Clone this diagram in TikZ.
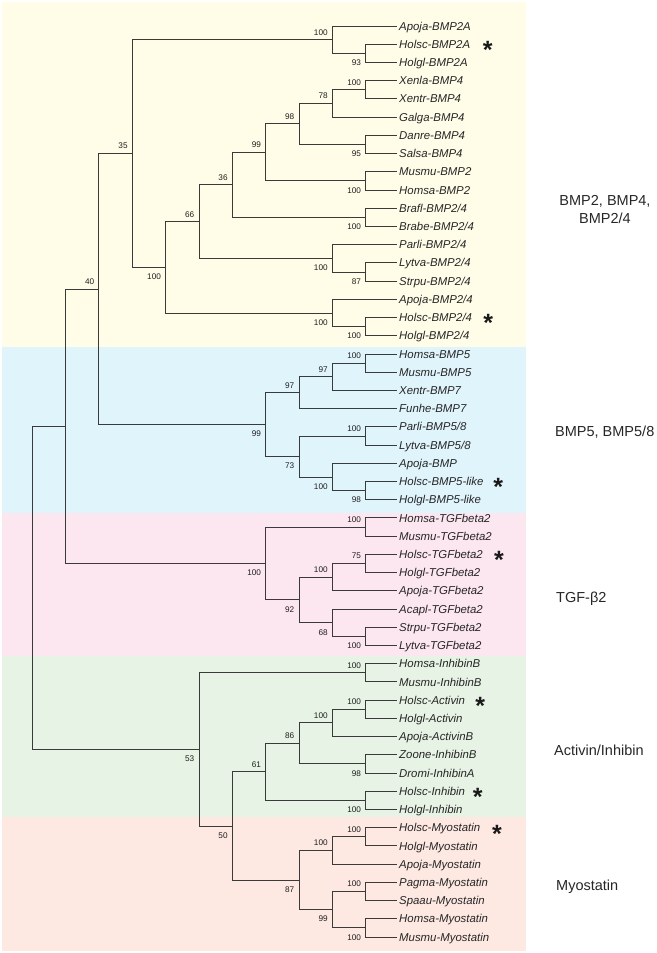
\documentclass[tikz,border=0pt]{standalone}
\usepackage{fontspec}
\setmainfont{Liberation Sans}
\definecolor{bandY}{HTML}{FFFDE8}
\definecolor{bandB}{HTML}{E0F4FC}
\definecolor{bandP}{HTML}{FCE6F0}
\definecolor{bandG}{HTML}{E7F3E4}
\definecolor{bandS}{HTML}{FDE8E2}
\definecolor{brc}{HTML}{3A3A3A}
\newcommand{\leaffont}{\fontsize{11.4}{12}\selectfont\itshape}
\newcommand{\bsfont}{\fontsize{8.2}{9}\selectfont}
\newcommand{\grpfont}{\fontsize{14.5}{18.3}\selectfont}
\begin{document}
\begin{tikzpicture}[x=1pt,y=-1pt,
  treeline/.style={draw=brc,line width=0.9pt},
  leaf/.style={anchor=west,inner xsep=2pt,inner ysep=0pt,text height=8.2pt,text depth=0pt,font=\leaffont,text=black!85},
  bsab/.style={anchor=base east,inner sep=0pt,font=\bsfont,text=black!88,xshift=-4.5pt,yshift=4.5pt},
  bsbe/.style={anchor=base east,inner sep=0pt,font=\bsfont,text=black!88,xshift=-4.5pt,yshift=-12.3pt},
  grp/.style={inner sep=0pt,font=\grpfont,text=black!85},
  grpw/.style={grp,anchor=west,text height=10.4pt,text depth=0pt},
  hstar/.style={anchor=base,inner sep=0pt,font=\fontsize{25}{25}\bfseries,text=black!90}]
\useasboundingbox (0,0) rectangle (656,953);
% bands
\fill[bandY] (2,2) rectangle (526,346.5);
\fill[bandB] (2,346.5) rectangle (526,513.3);
\fill[bandP] (2,513.3) rectangle (526,655.7);
\fill[bandG] (2,655.7) rectangle (526,817.3);
\fill[bandS] (2,817.3) rectangle (526,950.7);
% leaves
\node[leaf] (t1) at (397,26.00) {Apoja-BMP2A};
\node[leaf] (t2) at (397,44.22) {Holsc-BMP2A};
\node[leaf] (t3) at (397,62.44) {Holgl-BMP2A};
\node[leaf] (t4) at (397,80.66) {Xenla-BMP4};
\node[leaf] (t5) at (397,98.88) {Xentr-BMP4};
\node[leaf] (t6) at (397,117.10) {Galga-BMP4};
\node[leaf] (t7) at (397,135.32) {Danre-BMP4};
\node[leaf] (t8) at (397,153.54) {Salsa-BMP4};
\node[leaf] (t9) at (397,171.76) {Musmu-BMP2};
\node[leaf] (t10) at (397,189.98) {Homsa-BMP2};
\node[leaf] (t11) at (397,208.20) {Brafl-BMP2/4};
\node[leaf] (t12) at (397,226.42) {Brabe-BMP2/4};
\node[leaf] (t13) at (397,244.64) {Parli-BMP2/4};
\node[leaf] (t14) at (397,262.86) {Lytva-BMP2/4};
\node[leaf] (t15) at (397,281.08) {Strpu-BMP2/4};
\node[leaf] (t16) at (397,299.30) {Apoja-BMP2/4};
\node[leaf] (t17) at (397,317.52) {Holsc-BMP2/4};
\node[leaf] (t18) at (397,335.74) {Holgl-BMP2/4};
\node[leaf] (t19) at (397,353.96) {Homsa-BMP5};
\node[leaf] (t20) at (397,372.18) {Musmu-BMP5};
\node[leaf] (t21) at (397,390.40) {Xentr-BMP7};
\node[leaf] (t22) at (397,408.62) {Funhe-BMP7};
\node[leaf] (t23) at (397,426.84) {Parli-BMP5/8};
\node[leaf] (t24) at (397,445.06) {Lytva-BMP5/8};
\node[leaf] (t25) at (397,463.28) {Apoja-BMP};
\node[leaf] (t26) at (397,481.50) {Holsc-BMP5-like};
\node[leaf] (t27) at (397,499.72) {Holgl-BMP5-like};
\node[leaf] (t28) at (397,517.94) {Homsa-TGFbeta2};
\node[leaf] (t29) at (397,536.16) {Musmu-TGFbeta2};
\node[leaf] (t30) at (397,554.38) {Holsc-TGFbeta2};
\node[leaf] (t31) at (397,572.60) {Holgl-TGFbeta2};
\node[leaf] (t32) at (397,590.82) {Apoja-TGFbeta2};
\node[leaf] (t33) at (397,609.04) {Acapl-TGFbeta2};
\node[leaf] (t34) at (397,627.26) {Strpu-TGFbeta2};
\node[leaf] (t35) at (397,645.48) {Lytva-TGFbeta2};
\node[leaf] (t36) at (397,663.70) {Homsa-InhibinB};
\node[leaf] (t37) at (397,681.92) {Musmu-InhibinB};
\node[leaf] (t38) at (397,700.14) {Holsc-Activin};
\node[leaf] (t39) at (397,718.36) {Holgl-Activin};
\node[leaf] (t40) at (397,736.58) {Apoja-ActivinB};
\node[leaf] (t41) at (397,754.80) {Zoone-InhibinB};
\node[leaf] (t42) at (397,773.02) {Dromi-InhibinA};
\node[leaf] (t43) at (397,791.24) {Holsc-Inhibin};
\node[leaf] (t44) at (397,809.46) {Holgl-Inhibin};
\node[leaf] (t45) at (397,827.68) {Holsc-Myostatin};
\node[leaf] (t46) at (397,845.90) {Holgl-Myostatin};
\node[leaf] (t47) at (397,864.12) {Apoja-Myostatin};
\node[leaf] (t48) at (397,882.34) {Pagma-Myostatin};
\node[leaf] (t49) at (397,900.56) {Spaau-Myostatin};
\node[leaf] (t50) at (397,918.78) {Homsa-Myostatin};
\node[leaf] (t51) at (397,937.00) {Musmu-Myostatin};
% internal nodes
\coordinate (root) at (32.26,587.83);
\coordinate (nA) at (65.60,426.26);
\coordinate (n40) at (98.94,289.02);
\coordinate (n35) at (132.28,153.47);
\coordinate (nbmp2a) at (332.32,39.67);
\coordinate (p2) at (365.66,53.33);
\coordinate (n100e) at (165.62,267.27);
\coordinate (n66) at (198.96,221.58);
\coordinate (n36) at (232.30,184.86);
\coordinate (n99a) at (265.64,152.40);
\coordinate (n98) at (298.98,123.93);
\coordinate (n78) at (332.32,103.43);
\coordinate (p4) at (365.66,89.77);
\coordinate (p7) at (365.66,144.43);
\coordinate (p9) at (365.66,180.87);
\coordinate (p11) at (365.66,217.31);
\coordinate (n100c) at (332.32,258.30);
\coordinate (p14) at (365.66,271.97);
\coordinate (n100d) at (332.32,312.97);
\coordinate (p17) at (365.66,326.63);
\coordinate (n99b) at (265.64,424.57);
\coordinate (n97a) at (298.98,392.68);
\coordinate (n97b) at (332.32,376.74);
\coordinate (p19) at (365.66,363.07);
\coordinate (n73) at (298.98,456.45);
\coordinate (p23) at (365.66,435.95);
\coordinate (n100f) at (332.32,476.95);
\coordinate (p26) at (365.66,490.61);
\coordinate (n100h) at (265.64,563.50);
\coordinate (p28) at (365.66,527.05);
\coordinate (n92) at (298.98,599.94);
\coordinate (n100g) at (332.32,577.16);
\coordinate (p30) at (365.66,563.49);
\coordinate (n68) at (332.32,622.71);
\coordinate (p34) at (365.66,636.37);
\coordinate (n53) at (198.96,749.40);
\coordinate (p36) at (365.66,672.81);
\coordinate (n50) at (232.30,825.98);
\coordinate (n61) at (265.64,771.89);
\coordinate (n86) at (298.98,743.42);
\coordinate (n100i) at (332.32,722.92);
\coordinate (p38) at (365.66,709.25);
\coordinate (p41) at (365.66,763.91);
\coordinate (p43) at (365.66,800.35);
\coordinate (n87) at (298.98,880.07);
\coordinate (n100j) at (332.32,850.46);
\coordinate (p45) at (365.66,836.79);
\coordinate (n99c) at (332.32,909.67);
\coordinate (p48) at (365.66,891.45);
\coordinate (p50) at (365.66,927.89);
% branches
\draw[treeline] (root) |- (nA) (root) |- (n53);
\draw[treeline] (nA) |- (n40) (nA) |- (n100h);
\draw[treeline] (n40) |- (n35) (n40) |- (n99b);
\draw[treeline] (n35) |- (nbmp2a) (n35) |- (n100e);
\draw[treeline] (nbmp2a) |- (t1.west) (nbmp2a) |- (p2);
\draw[treeline] (p2) |- (t2.west) (p2) |- (t3.west);
\draw[treeline] (n100e) |- (n66) (n100e) |- (n100d);
\draw[treeline] (n66) |- (n36) (n66) |- (n100c);
\draw[treeline] (n36) |- (n99a) (n36) |- (p11);
\draw[treeline] (n99a) |- (n98) (n99a) |- (p9);
\draw[treeline] (n98) |- (n78) (n98) |- (p7);
\draw[treeline] (n78) |- (p4) (n78) |- (t6.west);
\draw[treeline] (p4) |- (t4.west) (p4) |- (t5.west);
\draw[treeline] (p7) |- (t7.west) (p7) |- (t8.west);
\draw[treeline] (p9) |- (t9.west) (p9) |- (t10.west);
\draw[treeline] (p11) |- (t11.west) (p11) |- (t12.west);
\draw[treeline] (n100c) |- (t13.west) (n100c) |- (p14);
\draw[treeline] (p14) |- (t14.west) (p14) |- (t15.west);
\draw[treeline] (n100d) |- (t16.west) (n100d) |- (p17);
\draw[treeline] (p17) |- (t17.west) (p17) |- (t18.west);
\draw[treeline] (n99b) |- (n97a) (n99b) |- (n73);
\draw[treeline] (n97a) |- (n97b) (n97a) |- (t22.west);
\draw[treeline] (n97b) |- (p19) (n97b) |- (t21.west);
\draw[treeline] (p19) |- (t19.west) (p19) |- (t20.west);
\draw[treeline] (n73) |- (p23) (n73) |- (n100f);
\draw[treeline] (p23) |- (t23.west) (p23) |- (t24.west);
\draw[treeline] (n100f) |- (t25.west) (n100f) |- (p26);
\draw[treeline] (p26) |- (t26.west) (p26) |- (t27.west);
\draw[treeline] (n100h) |- (p28) (n100h) |- (n92);
\draw[treeline] (p28) |- (t28.west) (p28) |- (t29.west);
\draw[treeline] (n92) |- (n100g) (n92) |- (n68);
\draw[treeline] (n100g) |- (p30) (n100g) |- (t32.west);
\draw[treeline] (p30) |- (t30.west) (p30) |- (t31.west);
\draw[treeline] (n68) |- (t33.west) (n68) |- (p34);
\draw[treeline] (p34) |- (t34.west) (p34) |- (t35.west);
\draw[treeline] (n53) |- (p36) (n53) |- (n50);
\draw[treeline] (p36) |- (t36.west) (p36) |- (t37.west);
\draw[treeline] (n50) |- (n61) (n50) |- (n87);
\draw[treeline] (n61) |- (n86) (n61) |- (p43);
\draw[treeline] (n86) |- (n100i) (n86) |- (p41);
\draw[treeline] (n100i) |- (p38) (n100i) |- (t40.west);
\draw[treeline] (p38) |- (t38.west) (p38) |- (t39.west);
\draw[treeline] (p41) |- (t41.west) (p41) |- (t42.west);
\draw[treeline] (p43) |- (t43.west) (p43) |- (t44.west);
\draw[treeline] (n87) |- (n100j) (n87) |- (n99c);
\draw[treeline] (n100j) |- (p45) (n100j) |- (t47.west);
\draw[treeline] (p45) |- (t45.west) (p45) |- (t46.west);
\draw[treeline] (n99c) |- (p48) (n99c) |- (p50);
\draw[treeline] (p48) |- (t48.west) (p48) |- (t49.west);
\draw[treeline] (p50) |- (t50.west) (p50) |- (t51.west);
% bootstrap values
\node[bsab] (b1) at (nbmp2a) {100};
\node[bsbe] (b2) at (p2) {93};
\node[bsab] (b3) at (p4) {100};
\node[bsab] (b4) at (n78) {78};
\node[bsbe] (b5) at (p7) {95};
\node[bsab] (b6) at (n98) {98};
\node[bsbe] (b7) at (p9) {100};
\node[bsab] (b8) at (n99a) {99};
\node[bsbe] (b9) at (p11) {100};
\node[bsab] (b10) at (n36) {36};
\node[bsbe] (b11) at (p14) {87};
\node[bsbe] (b12) at (n100c) {100};
\node[bsab] (b13) at (n66) {66};
\node[bsbe] (b14) at (p17) {100};
\node[bsbe] (b15) at (n100d) {100};
\node[bsbe] (b16) at (n100e) {100};
\node[bsab] (b17) at (n35) {35};
\node[bsab] (b18) at (p19) {100};
\node[bsab] (b19) at (n97b) {97};
\node[bsab] (b20) at (n97a) {97};
\node[bsab] (b21) at (p23) {100};
\node[bsbe] (b22) at (p26) {98};
\node[bsbe] (b23) at (n100f) {100};
\node[bsbe] (b24) at (n73) {73};
\node[bsbe] (b25) at (n99b) {99};
\node[bsab] (b26) at (n40) {40};
\node[bsab] (b27) at (p28) {100};
\node[bsab] (b28) at (p30) {75};
\node[bsab] (b29) at (n100g) {100};
\node[bsbe] (b30) at (p34) {100};
\node[bsbe] (b31) at (n68) {68};
\node[bsbe] (b32) at (n92) {92};
\node[bsbe] (b33) at (n100h) {100};
\node[bsab] (b34) at (p36) {100};
\node[bsab] (b35) at (p38) {100};
\node[bsab] (b36) at (n100i) {100};
\node[bsbe] (b37) at (p41) {98};
\node[bsab] (b38) at (n86) {86};
\node[bsbe] (b39) at (p43) {100};
\node[bsab] (b40) at (n61) {61};
\node[bsab] (b41) at (p45) {100};
\node[bsab] (b42) at (n100j) {100};
\node[bsab] (b43) at (p48) {100};
\node[bsbe] (b44) at (p50) {100};
\node[bsbe] (b45) at (n99c) {99};
\node[bsbe] (b46) at (n87) {87};
\node[bsbe] (b47) at (n50) {50};
\node[bsbe] (b48) at (n53) {53};
% stars
\node[hstar] (s1) at (487.7,58.6) {*};
\node[hstar] (s2) at (488.3,331.9) {*};
\node[hstar] (s3) at (498.3,495.9) {*};
\node[hstar] (s4) at (499.0,568.8) {*};
\node[hstar] (s5) at (480.3,714.5) {*};
\node[hstar] (s6) at (477.7,805.6) {*};
\node[hstar] (s7) at (497.0,842.1) {*};
% group labels
\node[grp,align=center] (g1) at (605,209.2) {BMP2, BMP4,\\BMP2/4};
\node[grpw] (g2) at (555,431.7) {BMP5, BMP5/8};
\node[grpw] (g3) at (556,597.7) {TGF-β2};
\node[grpw] (g4) at (554,750) {Activin/Inhibin};
\node[grpw] (g5) at (556,885) {Myostatin};
\end{tikzpicture}
\end{document}
